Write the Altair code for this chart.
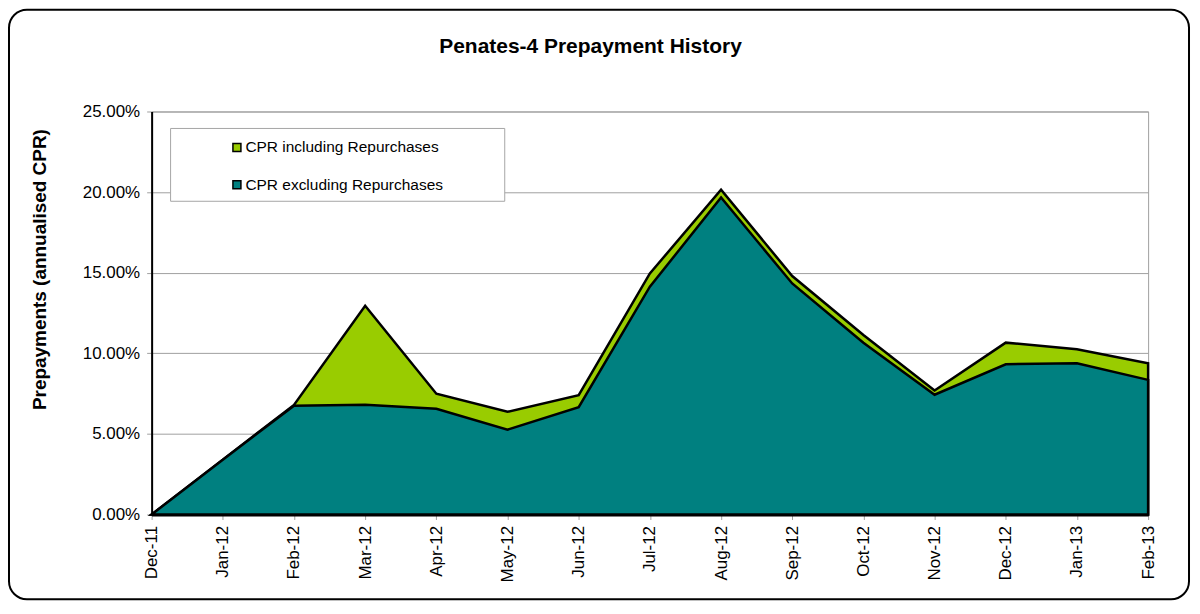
import altair as alt
import pandas as pd

months = ["Dec-11", "Jan-12", "Feb-12", "Mar-12", "Apr-12", "May-12", "Jun-12",
          "Jul-12", "Aug-12", "Sep-12", "Oct-12", "Nov-12", "Dec-12", "Jan-13", "Feb-13"]
cpr_incl = [0.00, 3.40, 6.80, 12.95, 7.49, 6.37, 7.40, 14.95, 20.15, 14.79, 11.14, 7.69, 10.66, 10.25, 9.38]
cpr_excl = [0.00, 3.40, 6.75, 6.80, 6.56, 5.26, 6.66, 14.13, 19.66, 14.33, 10.66, 7.43, 9.32, 9.38, 8.35]
series_names = ["CPR including Repurchases", "CPR excluding Repurchases"]
series_colors = ["#99CC00", "#008080"]
y_ticks = [0, 0.05, 0.10, 0.15, 0.20, 0.25]
chart_title = "Penates-4 Prepayment History"
y_title = "Prepayments (annualised CPR)"

FONT = "Liberation Sans"

df = pd.DataFrame({
    "month": months,
    "incl": [v / 100 for v in cpr_incl],
    "excl": [v / 100 for v in cpr_excl],
})

W, H = 999, 404

x_enc = alt.X(
    "month:N", sort=months,
    scale=alt.Scale(type="point", padding=0),
    axis=alt.Axis(title=None, labelAngle=270, labelAlign="right", labelBaseline="middle",
                  labelFont=FONT, labelFontSize=17, labelColor="black", labelPadding=6,
                  tickColor="#a0a0a0", tickSize=5, domainColor="black", domainWidth=3,
                  grid=False, labelOverlap=False),
)
y_scale = alt.Scale(domain=[0, 0.25], nice=False)

y_axis = alt.Axis(
    values=y_ticks, format=".2%", grid=True, gridColor="#a0a0a0", gridWidth=1,
    domainColor="black", domainWidth=2, tickColor="#a0a0a0", tickSize=5,
    labelFont=FONT, labelFontSize=17, labelColor="black", labelPadding=7,
    title=y_title, titleFont=FONT, titleFontSize=19, titleFontWeight="bold",
    titleColor="black", titleX=-112, titleY=158, titleAngle=270,
    titleAlign="center", titleBaseline="middle",
)

base = alt.Chart(df).encode(x=x_enc)

area_incl = base.mark_area(fill=series_colors[0], stroke="black", strokeWidth=2.5,
                           strokeJoin="miter", fillOpacity=1).encode(
    y=alt.Y("incl:Q", scale=y_scale, axis=y_axis))
area_excl = base.mark_area(fill=series_colors[1], stroke="black", strokeWidth=2.5,
                           strokeJoin="miter", fillOpacity=1).encode(
    y=alt.Y("excl:Q", scale=y_scale))

one = pd.DataFrame({"k": [0]})

frame = alt.Chart(one).mark_rect(fillOpacity=0, stroke="black", strokeWidth=2,
                                 cornerRadius=18).encode(
    x=alt.value(-143), x2=alt.value(1040), y=alt.value(-102), y2=alt.value(489))

title = alt.Chart(one).mark_text(text=chart_title, font=FONT, fontSize=21,
                                 fontWeight="bold", align="center", baseline="middle",
                                 color="black").encode(
    x=alt.value(440), y=alt.value(-65))

legend_box = alt.Chart(one).mark_rect(fill="white", stroke="#a6a6a6", strokeWidth=1).encode(
    x=alt.value(19), x2=alt.value(354), y=alt.value(17), y2=alt.value(90))

leg_layers = []
for i, (name, col, yy) in enumerate(zip(series_names, series_colors, [36, 73.5])):
    sym = alt.Chart(one).mark_rect(fill=col, stroke="black", strokeWidth=1.5).encode(
        x=alt.value(81.5), x2=alt.value(89.5), y=alt.value(yy - 4), y2=alt.value(yy + 4))
    txt = alt.Chart(one).mark_text(text=name, font=FONT, fontSize=15.5, align="left",
                                   baseline="middle", color="black").encode(
        x=alt.value(94), y=alt.value(yy))
    leg_layers += [sym, txt]

chart = alt.layer(frame, title, area_incl, area_excl, legend_box, *leg_layers).properties(
    width=W, height=H,
    autosize=alt.AutoSizeParams(type="none"),
    padding={"left": 144, "top": 103, "right": 44, "bottom": 92},
    background="white",
).configure_view(stroke="#a0a0a0", strokeWidth=1)

chart.save("out.html", embed_options={"renderer": "svg", "actions": False})
